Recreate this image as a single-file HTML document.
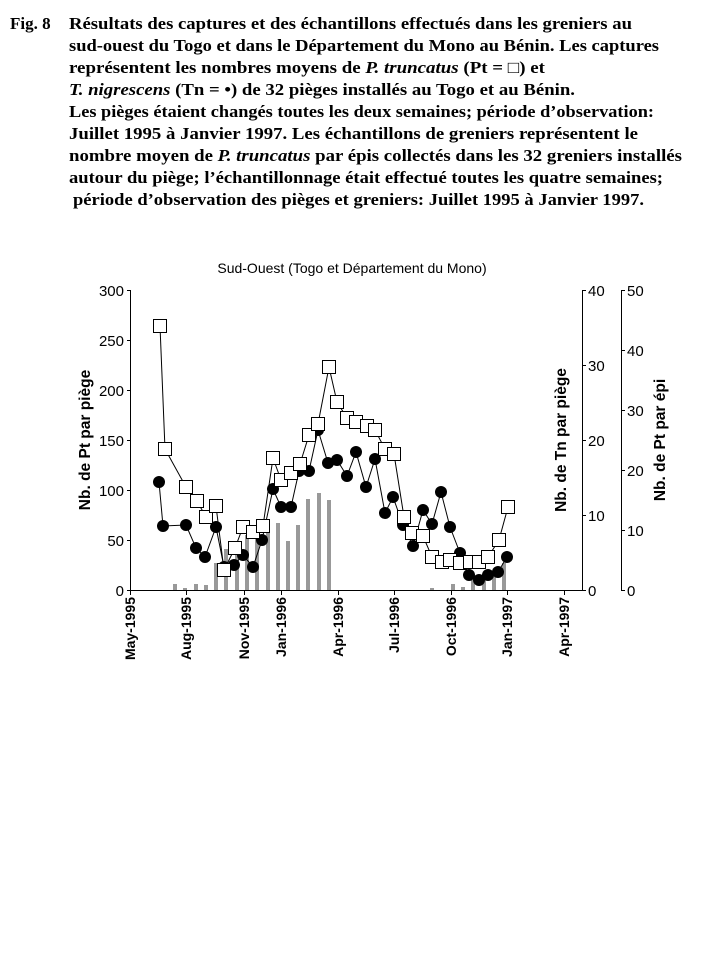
<!DOCTYPE html>
<html><head><meta charset="utf-8"><style>body{margin:0;background:#fff}svg{display:block}</style></head>
<body>
<svg width="719" height="959" xmlns="http://www.w3.org/2000/svg">
<rect width="719" height="959" fill="#fff"/>
<g font-family="Liberation Serif, serif" font-weight="bold" font-size="17" fill="#000">
<text x="10" y="29">Fig. 8</text>
<text x="69" y="29" textLength="563" lengthAdjust="spacingAndGlyphs">Résultats des captures et des échantillons effectués dans les greniers au</text>
<text x="69" y="51" textLength="590" lengthAdjust="spacingAndGlyphs">sud-ouest du Togo et dans le Département du Mono au Bénin. Les captures</text>
<text x="69" y="73" textLength="476" lengthAdjust="spacingAndGlyphs">représentent les nombres moyens de <tspan font-style="italic">P. truncatus</tspan> (Pt = □) et</text>
<text x="69" y="95" textLength="506" lengthAdjust="spacingAndGlyphs"><tspan font-style="italic">T. nigrescens</tspan> (Tn = •) de 32 pièges installés au Togo et au Bénin.</text>
<text x="69" y="117" textLength="585" lengthAdjust="spacingAndGlyphs">Les pièges étaient changés toutes les deux semaines; période d’observation:</text>
<text x="69" y="139" textLength="569" lengthAdjust="spacingAndGlyphs">Juillet 1995 à Janvier 1997. Les échantillons de greniers représentent le</text>
<text x="69" y="161" textLength="613" lengthAdjust="spacingAndGlyphs">nombre moyen de <tspan font-style="italic">P. truncatus</tspan> par épis collectés dans les 32 greniers installés</text>
<text x="69" y="183" textLength="594" lengthAdjust="spacingAndGlyphs">autour du piège; l’échantillonnage était effectué toutes les quatre semaines;</text>
<text x="73" y="205" textLength="571" lengthAdjust="spacingAndGlyphs">période d’observation des pièges et greniers: Juillet 1995 à Janvier 1997.</text>
</g>
<g font-family="Liberation Sans, sans-serif" font-size="14" fill="#000">
<text x="352" y="273" text-anchor="middle">Sud-Ouest (Togo et Département du Mono)</text>
</g>
<!-- bars -->
<g fill="#999">
<rect x="173" y="584" width="4" height="6"/><rect x="183" y="588" width="4" height="2"/><rect x="194" y="584" width="4" height="6"/><rect x="204" y="585" width="4" height="5"/><rect x="214" y="563" width="4" height="27"/><rect x="224" y="549" width="4" height="41"/><rect x="235" y="555" width="4" height="35"/><rect x="245" y="535" width="4" height="55"/><rect x="255" y="535" width="4" height="55"/><rect x="266" y="525" width="4" height="65"/><rect x="276" y="523" width="4" height="67"/><rect x="286" y="541" width="4" height="49"/><rect x="296" y="525" width="4" height="65"/><rect x="306" y="499" width="4" height="91"/><rect x="317" y="493" width="4" height="97"/><rect x="327" y="500" width="4" height="90"/>
<rect x="430" y="588" width="4" height="2"/><rect x="451" y="584" width="4" height="6"/><rect x="461" y="587" width="4" height="3"/><rect x="471" y="580" width="4" height="10"/><rect x="482" y="578" width="4" height="12"/><rect x="492" y="575" width="4" height="15"/><rect x="502" y="563" width="4" height="27"/>
</g>
<!-- axes -->
<g stroke="#000" stroke-width="1" fill="none">
<path d="M130.5 290V590.5H582"/>
<path d="M127 290.5h4M127 340.5h4M127 390.5h4M127 440.5h4M127 490.5h4M127 540.5h4M127 590.5h4"/>
<path d="M130.5 590v5M186.5 590v5M244.5 590v5M281.5 590v5M338.5 590v5M394.5 590v5M451.5 590v5M507.5 590v5M564.5 590v5"/>
<path d="M582.5 290V590.5M582 290.5h4M582 365.5h4M582 440.5h4M582 515.5h4M582 590.5h4"/>
<path d="M621.5 290V590.5M621 290.5h4M621 350.5h4M621 410.5h4M621 470.5h4M621 530.5h4M621 590.5h4"/>
</g>
<g font-family="Liberation Sans, sans-serif" font-size="15" fill="#000">
<g text-anchor="end"><text x="124" y="296">300</text><text x="124" y="346">250</text><text x="124" y="396">200</text><text x="124" y="446">150</text><text x="124" y="496">100</text><text x="124" y="546">50</text><text x="124" y="596">0</text></g>
<text x="588" y="296">40</text><text x="588" y="371">30</text><text x="588" y="446">20</text><text x="588" y="521">10</text><text x="588" y="596">0</text>
<text x="627" y="296">50</text><text x="627" y="356">40</text><text x="627" y="416">30</text><text x="627" y="476">20</text><text x="627" y="536">10</text><text x="627" y="596">0</text>
</g>
<g font-family="Liberation Sans, sans-serif" font-size="15.5" font-weight="bold" fill="#000">
<text transform="translate(90,440) rotate(-90)" text-anchor="middle">Nb. de Pt  par piège</text>
<text transform="translate(566,440) rotate(-90)" text-anchor="middle">Nb. de Tn  par piège</text>
<text transform="translate(665,440) rotate(-90)" text-anchor="middle">Nb. de Pt  par épi</text>
</g>
<g font-family="Liberation Sans, sans-serif" font-size="14" font-weight="bold" fill="#000" text-anchor="end">
<text transform="translate(135,597) rotate(-90)">May-1995</text>
<text transform="translate(191,597) rotate(-90)">Aug-1995</text>
<text transform="translate(249,597) rotate(-90)">Nov-1995</text>
<text transform="translate(286,597) rotate(-90)">Jan-1996</text>
<text transform="translate(343,597) rotate(-90)">Apr-1996</text>
<text transform="translate(399,597) rotate(-90)">Jul-1996</text>
<text transform="translate(456,597) rotate(-90)">Oct-1996</text>
<text transform="translate(512,597) rotate(-90)">Jan-1997</text>
<text transform="translate(569,597) rotate(-90)">Apr-1997</text>
</g>
<!-- circles -->
<polyline fill="none" stroke="#000" points="159,482 163,526 186,525 196,548 205,557 216,527 224,567 234,565 243,555 253,567 262,540 273,489 281,507 291,507 299,471 309,471 318,430 328,463 337,460 347,476 356,452 366,487 375,459 385,513 393,497 403,525 413,546 423,510 432,524 441,492 450,527 460,553 469,575 479,580 488,575 498,572 507,557"/>
<g fill="#000">
<circle cx="159" cy="482" r="6"/><circle cx="163" cy="526" r="6"/><circle cx="186" cy="525" r="6"/><circle cx="196" cy="548" r="6"/><circle cx="205" cy="557" r="6"/><circle cx="216" cy="527" r="6"/><circle cx="224" cy="567" r="6"/><circle cx="234" cy="565" r="6"/><circle cx="243" cy="555" r="6"/><circle cx="253" cy="567" r="6"/><circle cx="262" cy="540" r="6"/><circle cx="273" cy="489" r="6"/><circle cx="281" cy="507" r="6"/><circle cx="291" cy="507" r="6"/><circle cx="299" cy="471" r="6"/><circle cx="309" cy="471" r="6"/><circle cx="318" cy="430" r="6"/><circle cx="328" cy="463" r="6"/><circle cx="337" cy="460" r="6"/><circle cx="347" cy="476" r="6"/><circle cx="356" cy="452" r="6"/><circle cx="366" cy="487" r="6"/><circle cx="375" cy="459" r="6"/><circle cx="385" cy="513" r="6"/><circle cx="393" cy="497" r="6"/><circle cx="403" cy="525" r="6"/><circle cx="413" cy="546" r="6"/><circle cx="423" cy="510" r="6"/><circle cx="432" cy="524" r="6"/><circle cx="441" cy="492" r="6"/><circle cx="450" cy="527" r="6"/><circle cx="460" cy="553" r="6"/><circle cx="469" cy="575" r="6"/><circle cx="479" cy="580" r="6"/><circle cx="488" cy="575" r="6"/><circle cx="498" cy="572" r="6"/><circle cx="507" cy="557" r="6"/>
</g>
<!-- squares -->
<polyline fill="none" stroke="#000" points="160,326 165,449 186,487 197,501 206,517 216,506 224,570 235,548 243,527 253,532 263,526 273,458 281,480 291,473 300,464 309,435 318,424 329,367 337,402 347,418 356,422 367,426 375,430 385,449 394,454 404,517 412,533 423,536 432,557 442,562 450,560 460,563 470,562 479,562 488,557 499,540 508,507"/>
<g fill="#fff" stroke="#000" stroke-width="1">
<rect x="153.5" y="319.5" width="13" height="13"/><rect x="158.5" y="442.5" width="13" height="13"/><rect x="179.5" y="480.5" width="13" height="13"/><rect x="190.5" y="494.5" width="13" height="13"/><rect x="199.5" y="510.5" width="13" height="13"/><rect x="209.5" y="499.5" width="13" height="13"/><rect x="217.5" y="563.5" width="13" height="13"/><rect x="228.5" y="541.5" width="13" height="13"/><rect x="236.5" y="520.5" width="13" height="13"/><rect x="246.5" y="525.5" width="13" height="13"/><rect x="256.5" y="519.5" width="13" height="13"/><rect x="266.5" y="451.5" width="13" height="13"/><rect x="274.5" y="473.5" width="13" height="13"/><rect x="284.5" y="466.5" width="13" height="13"/><rect x="293.5" y="457.5" width="13" height="13"/><rect x="302.5" y="428.5" width="13" height="13"/><rect x="311.5" y="417.5" width="13" height="13"/><rect x="322.5" y="360.5" width="13" height="13"/><rect x="330.5" y="395.5" width="13" height="13"/><rect x="340.5" y="411.5" width="13" height="13"/><rect x="349.5" y="415.5" width="13" height="13"/><rect x="360.5" y="419.5" width="13" height="13"/><rect x="368.5" y="423.5" width="13" height="13"/><rect x="378.5" y="442.5" width="13" height="13"/><rect x="387.5" y="447.5" width="13" height="13"/><rect x="397.5" y="510.5" width="13" height="13"/><rect x="405.5" y="526.5" width="13" height="13"/><rect x="416.5" y="529.5" width="13" height="13"/><rect x="425.5" y="550.5" width="13" height="13"/><rect x="435.5" y="555.5" width="13" height="13"/><rect x="443.5" y="553.5" width="13" height="13"/><rect x="453.5" y="556.5" width="13" height="13"/><rect x="463.5" y="555.5" width="13" height="13"/><rect x="472.5" y="555.5" width="13" height="13"/><rect x="481.5" y="550.5" width="13" height="13"/><rect x="492.5" y="533.5" width="13" height="13"/><rect x="501.5" y="500.5" width="13" height="13"/>
</g>
</svg>
</body></html>
